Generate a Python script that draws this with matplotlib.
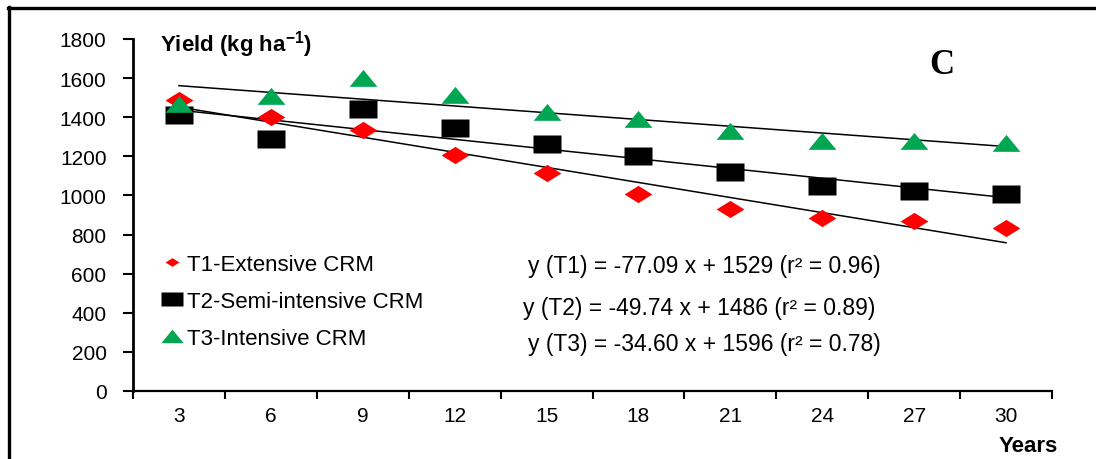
import matplotlib
matplotlib.use("Agg")
import matplotlib.pyplot as plt
import numpy as np
from matplotlib.lines import Line2D

plt.rcParams["font.family"] = "Liberation Sans"
plt.rcParams["mathtext.fontset"] = "custom"
plt.rcParams["mathtext.rm"] = "Liberation Sans"
plt.rcParams["mathtext.bf"] = "Liberation Sans:bold"

years = ["3", "6", "9", "12", "15", "18", "21", "24", "27", "30"]
t1 = [1490, 1400, 1333, 1205, 1113, 1005, 933, 885, 867, 836]
t2 = [1410, 1290, 1441, 1345, 1262, 1200, 1118, 1046, 1025, 1005]
t3 = [1467, 1508, 1600, 1515, 1426, 1390, 1328, 1277, 1277, 1267]

names = ["T1-Extensive CRM", "T2-Semi-intensive CRM", "T3-Intensive CRM"]
slopes = [-77.09, -49.74, -34.60]
intercepts = [1529, 1486, 1596]
r2 = [0.96, 0.89, 0.78]

# wide markers (the original figure is stretched sideways)
diamond = [(-1, 0), (0, 0.62), (1, 0), (0, -0.62), (-1, 0)]
square = [(-1, -0.65), (1, -0.65), (1, 0.65), (-1, 0.65), (-1, -0.65)]
triangle = [(-1, -0.6), (1, -0.6), (0, 0.62), (-1, -0.6)]

fig = plt.figure(figsize=(10.96, 4.6), dpi=100)
ax = fig.add_axes([133 / 1096, 68 / 460, 919 / 1096, 352 / 460])

x = np.arange(1, len(years) + 1)

ax.plot(x, t1, ls="none", marker=diamond, ms=20, color="#ff0000", mec="none", label=names[0])
ax.plot(x, t2, ls="none", marker=square, ms=20, color="black", mec="none", label=names[1])
ax.plot(x, t3, ls="none", marker=triangle, ms=20, color="#00a651", mec="none", label=names[2])

xl = np.array([x[0], x[-1]])
for m, b in zip(slopes, intercepts):
    ax.plot(xl, m * xl + b, color="black", lw=1.1, zorder=1)

ax.set_xlim(0.5, len(years) + 0.5)
ax.set_ylim(0, 1800)
ax.set_yticks(np.arange(0, 1801, 200))
ax.set_xticks(x)
ax.set_xticklabels(years)
ax.set_xticks(np.arange(0.5, len(years) + 1, 1), minor=True)
ax.tick_params(axis="x", which="major", length=0, labelsize=15, pad=11)
ax.tick_params(axis="x", which="minor", length=6, width=1.5, direction="out")
ax.tick_params(axis="y", length=7, width=1.5, direction="out", labelsize=15, pad=12)

for s in ["top", "right"]:
    ax.spines[s].set_visible(False)
ax.spines["left"].set_linewidth(2)
ax.spines["bottom"].set_linewidth(1.6)

leg = ax.legend(loc="upper left", bbox_to_anchor=(0.031, 0.39), frameon=False,
                fontsize=16, borderpad=0, borderaxespad=0, handlelength=0.95,
                handletextpad=0.22, labelspacing=0.72)
for h, s in zip(leg.legend_handles, [10, 16, 16]):
    h.set_markersize(s)

eq_pos = [(528, 267), (523, 308), (528, 345)]
for i, (px, py) in enumerate(eq_pos):
    txt = f"y (T{i + 1}) = {slopes[i]:.2f} x + {intercepts[i]} (r² = {r2[i]:.2f})"
    fig.text(px / 1096, 1 - py / 460, txt, fontsize=16.5, va="center", ha="left")

fig.text(160 / 1096, 1 - 45 / 460, r"Yield (kg ha$^{\mathbf{-1}}$)", fontsize=16,
         fontweight="bold", va="center", ha="left")
fig.text(1028 / 1096, 1 - 447 / 460, "Years", fontsize=16, fontweight="bold",
         va="center", ha="center")
fig.text(942 / 1096, 1 - 66 / 460, "C", fontsize=25, fontweight="bold",
         family="Liberation Serif", va="center", ha="center")

# outer frame (only top and left edges are visible)
fig.add_artist(Line2D([8 / 1096, 1], [1 - 9 / 460, 1 - 9 / 460], color="black", lw=2.4))
fig.add_artist(Line2D([9 / 1096, 9 / 1096], [1 - 8 / 460, 0], color="black", lw=2.4))

fig.savefig("out.png", dpi=100)
